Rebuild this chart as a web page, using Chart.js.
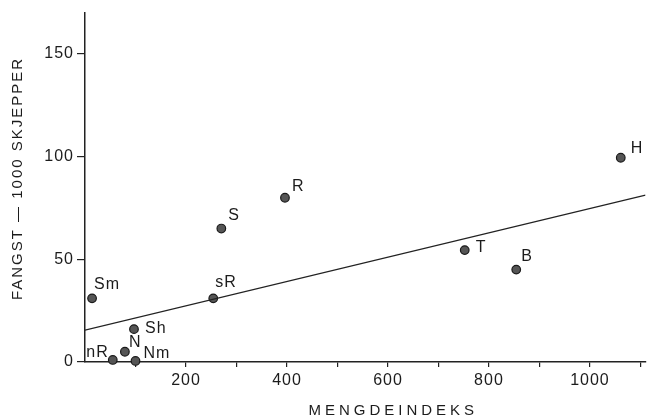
<!DOCTYPE html>
<html>
<head>
<meta charset="utf-8">
<script src="https://cdn.jsdelivr.net/npm/chart.js@4.4.1/dist/chart.umd.min.js"></script>
<style>
  html, body { margin: 0; padding: 0; background: #fff; }
  #wrap { width: 651px; height: 420px; position: relative; }
</style>
</head>
<body>
<div id="wrap"><canvas id="c" width="651" height="420"></canvas></div>
<script>
// ---- data ----
const pointNames = ['Sm', 'nR', 'N', 'Nm', 'Sh', 'sR', 'S', 'R', 'T', 'B', 'H'];
const pointX = [14, 55, 79, 100, 97, 254, 270, 396, 752, 854, 1061];
const pointY = [31, 1, 5, 0.5, 16, 31, 65, 80, 54.5, 45, 99.5];
const trendX = [0, 1110];
const trendY = [15.5, 81.3];
const xTickValues = [100, 200, 300, 400, 500, 600, 700, 800, 900, 1000, 1100];
const xTickLabels = ['', '200', '', '400', '', '600', '', '800', '', '1000', ''];
const yTickValues = [0, 50, 100, 150];
const xTitle = 'MENGDEINDEKS';
const yTitle = 'FANGST — 1000 SKJEPPER';

// ---- label placement (style) ----
const labelOffsets = {
  Sm: [2, -14, 'left'], nR: [-4, -7, 'right'], N: [4, -9, 'left'], Nm: [8, -7, 'left'],
  Sh: [11, -1, 'left'], sR: [2, -16, 'left'], S: [7, -13, 'left'], R: [7, -11, 'left'],
  T: [11, -3, 'left'], B: [5, -13, 'left'], H: [10, -9, 'left']
};

const INK = '#1c1c1c';
const FONT = '"Liberation Sans", Arial, sans-serif';

const spacingPlugin = {
  id: 'spacing',
  beforeDraw(chart) { chart.ctx.letterSpacing = '1px'; },
  afterUpdate(chart) {
    const xs = chart.scales.x, ys = chart.scales.y;
    if (!xs._wrapped) {
      const o = xs.drawTitle;
      xs.drawTitle = function () {
        const ctx = this.ctx; ctx.save(); ctx.letterSpacing = '4px'; ctx.translate(28, 1);
        o.call(this); ctx.restore();
      };
      xs._wrapped = true;
    }
    if (!ys._wrapped) {
      const o = ys.drawTitle;
      ys.drawTitle = function () {
        const ctx = this.ctx; ctx.save(); ctx.letterSpacing = '2px'; ctx.translate(0, -9);
        o.call(this); ctx.restore();
      };
      ys._wrapped = true;
    }
  }
};

const labelPlugin = {
  id: 'pointLabels',
  afterDatasetsDraw(chart) {
    const ctx = chart.ctx;
    const meta = chart.getDatasetMeta(1);
    ctx.save();
    ctx.letterSpacing = '1px';
    ctx.font = '16px ' + FONT;
    ctx.fillStyle = INK;
    ctx.textBaseline = 'middle';
    meta.data.forEach((el, i) => {
      const name = pointNames[i];
      const off = labelOffsets[name] || [6, -10, 'left'];
      ctx.textAlign = off[2];
      ctx.fillText(name, el.x + off[0], el.y + off[1]);
    });
    ctx.restore();
  }
};

new Chart(document.getElementById('c'), {
  type: 'scatter',
  data: {
    datasets: [
      {
        type: 'line',
        data: trendX.map((x, i) => ({ x: x, y: trendY[i] })),
        borderColor: '#222',
        borderWidth: 1.1,
        pointRadius: 0,
        fill: false,
        tension: 0
      },
      {
        data: pointX.map((x, i) => ({ x: x, y: pointY[i] })),
        pointRadius: 4.3,
        pointBackgroundColor: '#555',
        pointBorderColor: '#1a1a1a',
        pointBorderWidth: 1.2,
        clip: false
      }
    ]
  },
  options: {
    responsive: false,
    animation: false,
    events: [],
    layout: { padding: { left: 0, top: 13, right: 3, bottom: 0 } },
    plugins: { legend: { display: false }, tooltip: { enabled: false } },
    scales: {
      x: {
        type: 'linear',
        min: 0,
        max: 1110,
        afterFit(s) { s.height = 58; },
        afterBuildTicks(s) { s.ticks = xTickValues.map(v => ({ value: v })); },
        ticks: {
          autoSkip: false,
          maxRotation: 0,
          padding: 4,
          color: INK,
          font: { family: FONT, size: 16 },
          callback(v) { const i = xTickValues.indexOf(v); return i >= 0 ? xTickLabels[i] : ''; }
        },
        grid: { drawOnChartArea: false, drawTicks: true, tickLength: 5, color: '#222', lineWidth: 1.2 },
        border: { display: true, color: '#222', width: 1.5 },
        title: { display: true, text: xTitle, color: INK, font: { family: FONT, size: 15 }, padding: { top: 0, bottom: 1 } }
      },
      y: {
        type: 'linear',
        min: 0,
        max: 170,
        afterFit(s) { s.width = 85; },
        afterBuildTicks(s) { s.ticks = yTickValues.map(v => ({ value: v })); },
        ticks: {
          padding: 3,
          color: INK,
          font: { family: FONT, size: 16 }
        },
        grid: { drawOnChartArea: false, drawTicks: true, tickLength: 8, color: '#222', lineWidth: 1.2 },
        border: { display: true, color: '#222', width: 1.5 },
        title: { display: true, text: yTitle, color: INK, font: { family: FONT, size: 15 }, padding: { top: 9, bottom: 0 } }
      }
    }
  },
  plugins: [spacingPlugin, labelPlugin]
});
</script>
</body>
</html>
